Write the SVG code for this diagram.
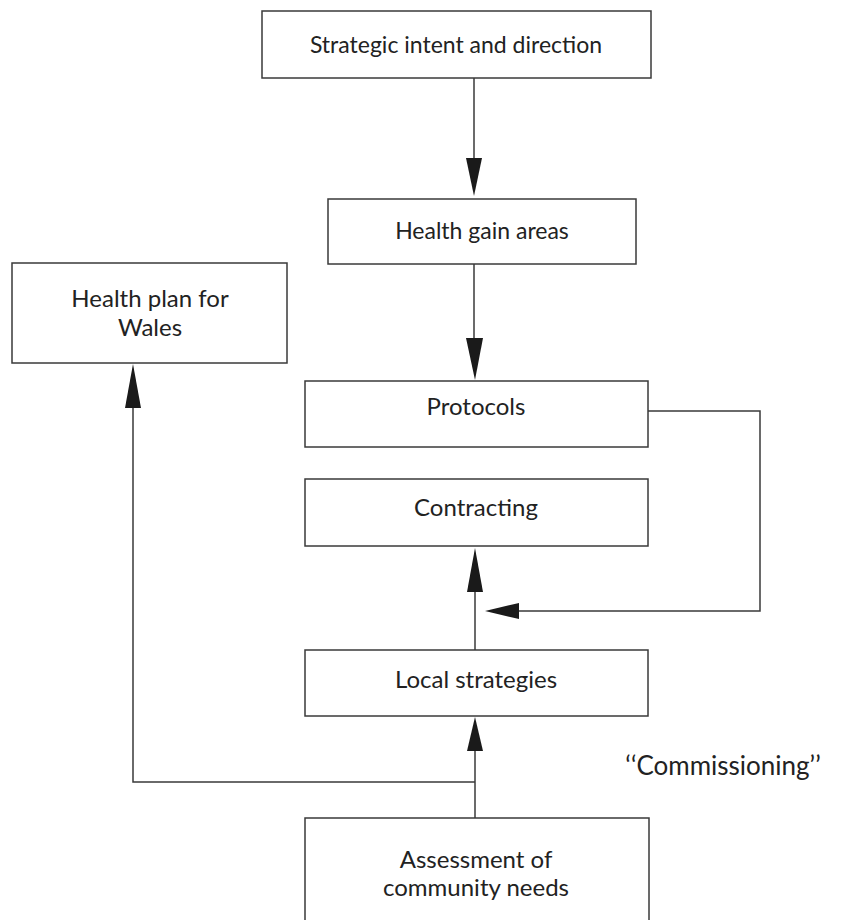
<svg xmlns="http://www.w3.org/2000/svg" width="861" height="920" viewBox="0 0 861 920">
  <style>
    .box { fill: #ffffff; stroke: #3a3a3a; stroke-width: 1.5; }
    .label { font-family: Lato, "Open Sans", "Liberation Sans", sans-serif; font-size: 24px; fill: #222222; text-anchor: middle; }
    .line { fill: none; stroke: #3a3a3a; stroke-width: 1.5; }
    .head { fill: #1a1a1a; stroke: none; }
  </style>
  <rect width="861" height="920" fill="#ffffff"/>

  <g id="connectors">
    <!-- strategic intent -> health gain areas -->
    <line class="line" x1="474" y1="78" x2="474" y2="160"/>
    <polygon class="head" points="466,158 482,158 474,196"/>
    <!-- health gain areas -> protocols -->
    <line class="line" x1="474" y1="264" x2="474" y2="340"/>
    <polygon class="head" points="466,338 483,338 475,380"/>
    <!-- protocols loop back down to the contracting input -->
    <polyline class="line" points="648,411 760,411 760,611 518,611"/>
    <polygon class="head" points="519,603 519,619 485,611"/>
    <!-- local strategies -> contracting -->
    <line class="line" x1="475" y1="590" x2="475" y2="650"/>
    <polygon class="head" points="467,592 483,592 475,548"/>
    <!-- assessment -> local strategies -->
    <line class="line" x1="475" y1="750" x2="475" y2="818"/>
    <polygon class="head" points="467,751 483,751 475,717"/>
    <!-- branch to health plan for wales -->
    <polyline class="line" points="475,782 133,782 133,406"/>
    <polygon class="head" points="125,408 141,408 133,364"/>
  </g>

  <g id="strategic-intent">
    <rect class="box" x="262" y="11" width="389" height="67"/>
    <text class="label" x="456" y="53" style="font-size:23px">Strategic intent and direction</text>
  </g>

  <g id="health-gain-areas">
    <rect class="box" x="328" y="199" width="308" height="65"/>
    <text class="label" x="482" y="239" style="font-size:23px">Health gain areas</text>
  </g>

  <g id="health-plan-wales">
    <rect class="box" x="12" y="263" width="275" height="100"/>
    <text class="label" x="150" y="307">Health plan for</text>
    <text class="label" x="150" y="336">Wales</text>
  </g>

  <g id="protocols">
    <rect class="box" x="305" y="381" width="343" height="66"/>
    <text class="label" x="476" y="415">Protocols</text>
  </g>

  <g id="contracting">
    <rect class="box" x="305" y="479" width="343" height="67"/>
    <text class="label" x="476" y="516">Contracting</text>
  </g>

  <g id="local-strategies">
    <rect class="box" x="305" y="650" width="343" height="66"/>
    <text class="label" x="476" y="688">Local strategies</text>
  </g>

  <g id="commissioning">
    <text class="label" x="723" y="775" style="font-size:26px">‘‘Commissioning’’</text>
  </g>

  <g id="assessment">
    <rect class="box" x="305" y="818" width="344" height="110"/>
    <text class="label" x="476" y="868">Assessment of</text>
    <text class="label" x="476" y="896">community needs</text>
  </g>
</svg>
